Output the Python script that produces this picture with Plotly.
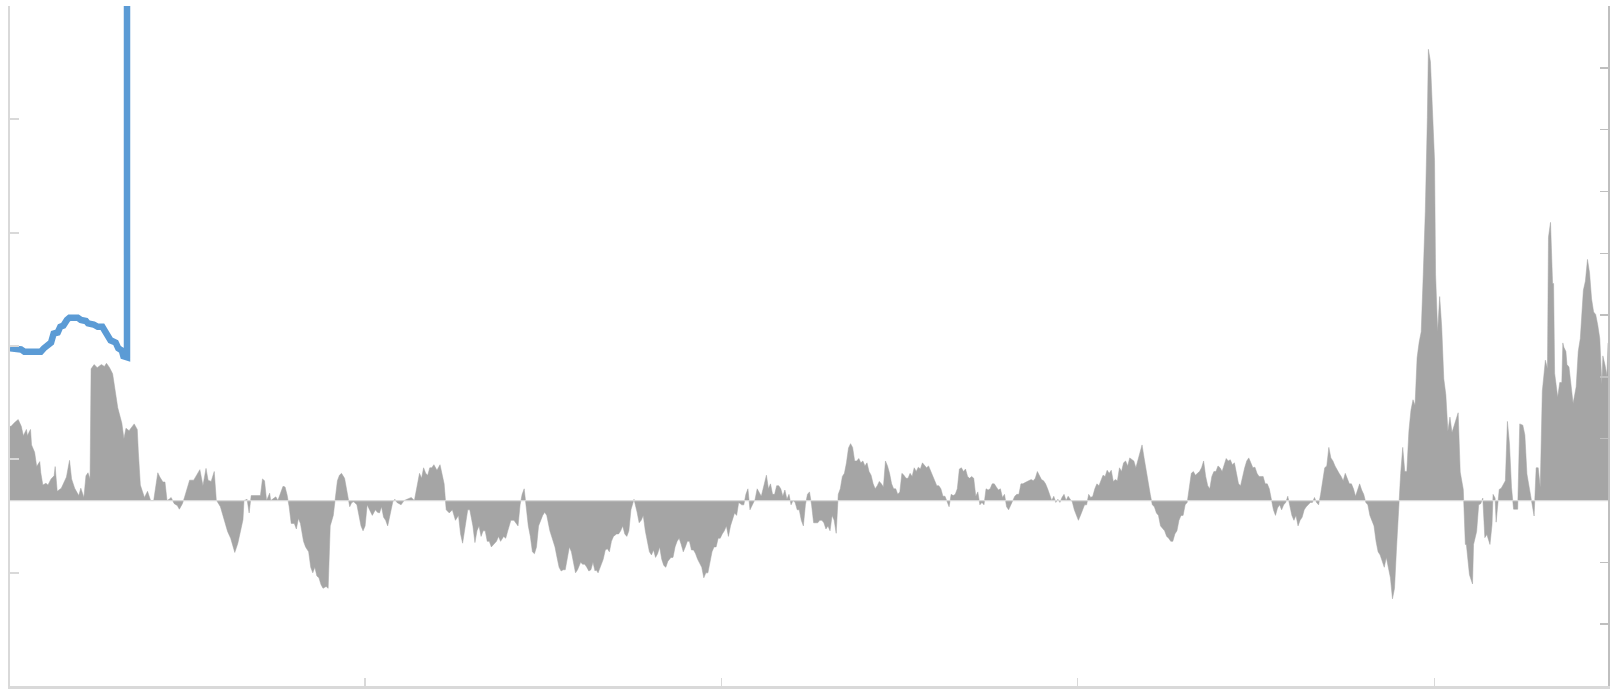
import plotly.graph_objects as go

# ---- grey area series (right axis) ----
t_area = [0, 1, 5, 8, 11, 13, 16, 17, 19, 20, 21, 24, 26, 29, 30, 32, 35, 37, 40, 43, 44, 46, 50, 53, 55, 58, 60, 63, 67, 69, 72, 74, 76, 78,
          79, 82, 85, 89, 92, 94, 97, 100, 103, 105, 109, 111, 113, 116, 121, 124, 125, 127, 129, 131, 134, 137, 140, 144, 146, 149, 151, 153,
          155, 157, 160, 163, 165, 168, 170, 173, 175, 179, 183, 185, 188, 191, 193, 196, 199, 201, 205, 209, 212, 215, 219, 222, 227, 228,
          231, 233, 235, 244, 246, 248, 250, 253, 254, 259, 261, 266, 268, 270, 272, 274, 277, 279, 281, 283,
          284, 286, 288, 291, 293, 295, 297, 299, 301, 303, 305, 308, 310, 312, 315, 317, 319, 321, 323, 326, 329, 331, 333, 335, 338, 340,
          342, 344, 346, 348, 351, 353, 356, 358, 360, 362, 364, 366, 368, 371, 373, 375, 377, 381, 384, 388, 391, 394, 397, 399, 401, 403,
          405, 407, 409, 411, 413, 416, 419, 421, 423, 425, 428, 431, 434, 437, 439, 441, 444, 446, 448, 451, 453, 455, 457, 459, 461, 463,
          465, 467, 469, 471, 474, 476, 478, 481, 483, 485, 488, 491, 493, 495, 497, 499, 501, 503, 505, 507, 509, 511, 513, 515, 517, 519,
          521, 523, 526, 528, 531, 533, 535, 537, 539, 541, 543, 545, 547, 549, 551, 553, 556, 558, 560, 562, 564, 566, 568, 570, 571, 573,
          576, 578, 580, 582, 584, 586, 588, 591, 593, 595, 597, 599, 601, 603, 605, 608, 611, 613, 615, 617, 619, 621, 623, 625, 627, 629,
          631, 633, 635, 637, 639, 641, 644, 646, 648, 650, 652, 654, 656, 658, 660, 662, 664, 666, 668, 670, 672, 674, 676, 678, 680, 682,
          684, 686, 688, 690, 692, 694, 696, 698, 700, 702, 704, 706, 708, 710, 713, 715, 717, 719, 721, 723, 726, 728, 730, 732, 735, 737,
          739, 741, 743, 745, 747, 749, 751, 753, 755, 757, 759, 761, 763, 765, 767, 769, 771, 773, 775, 777, 779, 781, 783, 785, 787, 789,
          791, 793, 795, 797, 799, 801, 803, 805, 807, 809, 811, 813, 815, 817, 819, 821, 823, 825, 827, 829, 831, 833, 835, 837, 839, 841,
          843, 845, 847, 849, 851, 853, 855, 857, 859, 861, 863, 865, 867, 869, 871, 873, 875, 877, 879, 881, 883, 885, 887, 889, 891, 893,
          895, 897, 899, 901, 903, 905, 907, 909, 911, 913, 915, 917, 919, 921, 923, 925, 927, 929, 931, 933, 935, 937, 939, 941, 943, 945,
          947, 949, 951, 953, 955, 957, 959, 961, 963, 965, 967, 969, 971, 973, 975, 977, 979, 981, 983, 985, 987, 989, 991, 993, 995, 997,
          999, 1001, 1003, 1005, 1007, 1009, 1011, 1013, 1015, 1017, 1019, 1021, 1023, 1025, 1027, 1029, 1031, 1033, 1035, 1037, 1039, 1041,
          1043, 1045, 1047, 1049, 1051, 1053, 1055, 1057, 1059, 1061, 1063, 1065, 1067, 1069, 1071, 1073, 1075, 1077, 1079, 1081, 1083, 1085,
          1087, 1089, 1091, 1095, 1097, 1099, 1101, 1103, 1105, 1107, 1109, 1111, 1113, 1115, 1117, 1119, 1121, 1123, 1125, 1127, 1129, 1131,
          1133, 1135, 1137, 1139, 1141, 1143, 1145, 1147, 1149, 1151, 1153, 1155, 1157, 1159, 1161, 1163, 1165, 1167, 1169, 1171, 1173, 1175,
          1177, 1179, 1181, 1183, 1185, 1187, 1189, 1191, 1193, 1195, 1197, 1199, 1201, 1203, 1205, 1207, 1209, 1211, 1213, 1215, 1217, 1219,
          1221, 1223, 1225, 1227, 1229, 1231, 1233, 1235, 1237, 1239, 1241, 1243, 1245, 1247, 1249, 1251, 1253, 1255, 1257, 1259, 1261, 1263,
          1265, 1267, 1269, 1271, 1273, 1275, 1277, 1279, 1281, 1283, 1285, 1287, 1289, 1291, 1293, 1295, 1297, 1299, 1301, 1303, 1305, 1307,
          1309, 1311, 1313, 1315, 1317, 1319, 1321, 1323, 1325, 1327, 1329, 1331, 1333, 1335, 1337, 1339, 1341, 1343, 1345, 1347, 1349, 1351,
          1353, 1355, 1357, 1359, 1361, 1363, 1365, 1367, 1369, 1371, 1373, 1375, 1377, 1379, 1381, 1382, 1384, 1386, 1388, 1389, 1391, 1393,
          1395, 1397, 1399, 1401,
          1403, 1405, 1411, 1413, 1416, 1418, 1419, 1422, 1425, 1426, 1429, 1431, 1433, 1435, 1437, 1439, 1442, 1444, 1445, 1447, 1448, 1451,
          1453, 1457, 1459, 1461, 1463, 1465, 1469, 1471, 1474, 1476, 1478, 1481, 1485, 1487, 1489, 1491, 1493, 1496, 1498, 1499, 1501, 1503,
          1504, 1505, 1507, 1508, 1510, 1512, 1513, 1514, 1516, 1517, 1519, 1521, 1523, 1526, 1528, 1530, 1532, 1533, 1535, 1537, 1539, 1541,
          1543, 1545, 1547, 1549, 1551, 1552, 1554, 1556, 1557]

spread = [1.2, 1.2, 1.27, 1.31, 1.2, 1.05, 1.15, 1.05, 1.12, 1.15, 0.9, 0.78, 0.55, 0.63, 0.45, 0.25, 0.28, 0.25, 0.35, 0.4, 0.55, 0.15, 0.2, 0.3, 0.38, 0.65, 0.35, 0.2, 0.08, 0.2, 0.05, 0.4, 0.45, 0.35,
          2.13, 2.2, 2.15, 2.2, 2.17, 2.22, 2.15, 2.05, 1.75, 1.5, 1.25, 1.0, 1.17, 1.13, 1.24, 1.15, 0.8, 0.25, 0.15, 0.05, 0.15, 0.0, 0.0, 0.45, 0.38, 0.3, 0.3, 0.0,
          0.02, 0.05, -0.05, -0.08, -0.14, -0.05, 0.05, 0.2, 0.33, 0.33, 0.44, 0.5, 0.24, 0.52, 0.33, 0.31, 0.47, 0.01, -0.1, -0.31, -0.5, -0.61, -0.84, -0.69, -0.31, 0.0,
          0.02, -0.2, 0.08, 0.08, 0.35, 0.32, 0.0, 0.12, 0.0, 0.06, 0.0, 0.23, 0.22, 0.09, -0.1, -0.37, -0.37, -0.46, -0.29, -0.37,
          -0.49, -0.66, -0.75, -0.83, -1.08, -1.17, -1.08, -1.22, -1.25, -1.36, -1.42, -1.39, -1.42, -0.41, -0.24, 0.02, 0.32, 0.41, 0.44, 0.36, 0.1, -0.1,
          -0.03, -0.02, -0.07, -0.24, -0.41, -0.49, -0.41, -0.07, -0.19, -0.24, -0.15, -0.19, -0.2, -0.1, -0.27, -0.32, -0.41, -0.15, -0.02, 0.02, -0.03, -0.07, 0.0, 0.03, 0.05, 0.0,
          0.27, 0.44, 0.36, 0.53, 0.44, 0.41, 0.53, 0.53, 0.58, 0.49, 0.58, 0.44, 0.27, -0.15, -0.2, -0.15, -0.32, -0.24, -0.54, -0.69, -0.32, -0.15, -0.15, -0.41, -0.68, -0.49,
          -0.41, -0.58, -0.49, -0.49, -0.66, -0.66, -0.75, -0.71, -0.66, -0.58, -0.66, -0.58, -0.61, -0.49, -0.32, -0.32, -0.36, -0.41, -0.07, 0.1, 0.19, -0.15, -0.41, -0.58, -0.83, -0.86,
          -0.75, -0.41, -0.32, -0.24, -0.19, -0.24, -0.49, -0.61, -0.75, -0.92, -1.08, -1.14, -1.12, -1.12, -0.92, -0.75, -0.83, -1.03, -1.17, -1.12, -1.0, -1.03, -1.03, -1.08, -1.14, -1.12,
          -1.0, -1.14, -1.12, -1.17, -1.03, -0.95, -0.8, -0.78, -0.83, -0.66, -0.58, -0.54, -0.54, -0.49, -0.41, -0.54, -0.58, -0.49, -0.15, 0.02, -0.19, -0.36, -0.32, -0.24, -0.49, -0.66,
          -0.83, -0.88, -0.8, -0.92, -0.86, -0.75, -0.95, -1.05, -1.08, -0.98, -0.92, -0.92, -0.75, -0.66, -0.61, -0.71, -0.83, -0.75, -0.66, -0.66, -0.8, -0.8, -0.86, -0.95, -1.03, -1.08,
          -1.25, -1.17, -1.17, -1.0, -0.83, -0.75, -0.75, -0.61, -0.61, -0.54, -0.49, -0.41, -0.58, -0.41, -0.29, -0.2, -0.24, -0.03, -0.07, -0.07, 0.1, 0.19, -0.15, -0.07, 0.02, 0.19,
          0.14, 0.07, 0.27, 0.41, 0.19, 0.27, 0.1, 0.1, 0.24, 0.24, 0.19, 0.07, 0.17, 0.02, 0.1, -0.07, 0.0, -0.03, -0.15, -0.15, -0.32, -0.41, -0.07, 0.1, 0.14, -0.07,
          -0.36, -0.36, -0.36, -0.32, -0.32, -0.36, -0.46, -0.41, -0.49, -0.24, -0.32, -0.53, 0.1, 0.19, 0.39, 0.44, 0.61, 0.85, 0.92, 0.86, 0.64, 0.64, 0.68, 0.61, 0.64, 0.56,
          0.61, 0.47, 0.41, 0.27, 0.19, 0.24, 0.31, 0.27, 0.22, 0.64, 0.56, 0.44, 0.27, 0.19, 0.19, 0.1, 0.14, 0.44, 0.41, 0.36, 0.36, 0.44, 0.39, 0.53, 0.47, 0.54,
          0.51, 0.61, 0.56, 0.53, 0.56, 0.47, 0.39, 0.32, 0.24, 0.24, 0.19, 0.07, 0.07, -0.03, -0.1, 0.1, 0.08, 0.1, 0.19, 0.51, 0.53, 0.47, 0.51, 0.39, 0.36, 0.39,
          0.36, 0.07, 0.14, -0.07, -0.03, -0.07, 0.19, 0.17, 0.19, 0.27, 0.27, 0.22, 0.17, 0.19, 0.05, 0.1, -0.1, -0.15, -0.07, 0.02, 0.07, 0.1, 0.1, 0.27, 0.27, 0.29,
          0.31, 0.32, 0.34, 0.32, 0.36, 0.47, 0.39, 0.34, 0.32, 0.27, 0.19, 0.08, 0.0, 0.07, -0.03, 0.02, -0.03, 0.05, 0.1, 0.0, 0.07, 0.02, -0.02, -0.15, -0.24, -0.32,
          -0.24, -0.15, -0.07, -0.07, 0.1, 0.05, 0.07, 0.19, 0.27, 0.24, 0.32, 0.41, 0.39, 0.49, 0.44, 0.49, 0.31, 0.34, 0.32, 0.53, 0.47, 0.61,
          0.64, 0.56, 0.69, 0.64, 0.53, 0.64, 0.78, 0.9, 0.69, 0.47, 0.27, 0.1, -0.07, -0.1, -0.2, -0.24, -0.41, -0.46, -0.49, -0.58, -0.61, -0.66,
          -0.66, -0.54, -0.49, -0.32, -0.24, -0.24, -0.07, -0.03, 0.19, 0.44, 0.47, 0.41, 0.44, 0.47, 0.53, 0.64, 0.39, 0.24, 0.19, 0.39, 0.47, 0.47,
          0.56, 0.53, 0.47, 0.58, 0.68, 0.64, 0.66, 0.58, 0.61, 0.44, 0.27, 0.24, 0.41, 0.53, 0.64, 0.69, 0.61, 0.53, 0.54, 0.44, 0.39, 0.39,
          0.39, 0.27, 0.27, 0.19, 0.02, -0.15, -0.24, -0.12, -0.07, -0.15, -0.07, -0.03, 0.07, -0.07, -0.24, -0.32, -0.24, -0.41, -0.32, -0.27, -0.15, -0.1,
          -0.07, -0.03, -0.03, 0.05, -0.03, -0.07, 0.1, 0.36, 0.53, 0.56, 0.86, 0.69, 0.64, 0.56, 0.49, 0.44, 0.39, 0.32, 0.44, 0.36, 0.27, 0.27,
          0.19, 0.07, 0.19, 0.27, 0.17, 0.1, -0.03, -0.07, -0.24, -0.32, -0.41, -0.66, -0.83, -0.88, -1.0, -1.08, -0.92, -1.08, -1.25, -1.59, -1.42, -0.75,
          -0.07, 0.44, 0.86, 0.47, 0.47, 1.12, 1.46, 1.63, 1.54, 2.31, 2.56, 2.73, 3.66, 4.68, 6.2, 7.3, 7.1, 6.2, 5.5, 3.66, 2.73, 3.3,
          2.8, 1.97, 1.71, 1.12,
          1.35, 1.1, 1.42, 0.46, 0.18, -0.71, -0.71, -1.2, -1.35, -0.71, -0.5, -0.07, -0.05, 0.04, -0.6, -0.55, -0.71, -0.39, 0.1, 0.04, -0.35, 0.18,
          0.2, 0.32, 1.28, 0.92, 0.21, -0.14, -0.14, 1.24, 1.22, 1.06, 0.43, 0.14, -0.25, 0.53, 0.53, 0.21, 1.77, 2.27, 2.13, 4.26, 4.5, 3.51,
          3.51, 2.06, 1.84, 1.67, 1.91, 1.91, 2.55, 2.48, 2.41, 2.2, 2.16, 1.84, 1.57, 1.84, 2.41, 2.62, 3.16, 3.4, 3.55, 3.9, 3.69, 3.26,
          3.05, 3.01, 2.84, 2.62, 1.88, 2.34, 2.2, 2.02, 2.55]

# ---- blue line series (left axis) ----
t_line = [0, 10.7, 14, 30, 33, 37, 40, 42.5, 46.5, 49, 52, 55.5, 58, 66, 69, 74, 76, 81.5, 85.5, 90, 93.5, 95, 98, 103, 105.5, 109, 110.5, 114, 115]
level = [2.98, 2.97, 2.95, 2.95, 2.98, 3.02, 3.03, 3.11, 3.12, 3.17, 3.18, 3.23, 3.25, 3.25, 3.23, 3.22, 3.2, 3.19, 3.17, 3.17, 3.12, 3.08, 3.05, 3.03, 2.98, 2.96, 2.91, 2.9, 600]

x_ticks = [346, 693, 1040, 1388]
x_range = [0, 1557]
left_range = [0, 6]
right_range = [-3, 8]

AX_LIGHT = "#d9d9d9"
AX_MID = "#bfbfbf"

fig = go.Figure()
fig.add_trace(go.Scatter(x=t_area, y=spread, mode="lines", fill="tozeroy",
                         fillcolor="#a5a5a5", line=dict(color="#a5a5a5", width=0.5),
                         yaxis="y", hoverinfo="skip"))
fig.add_trace(go.Scatter(x=t_line, y=level, mode="lines",
                         line=dict(color="#5b9bd5", width=6.5),
                         yaxis="y2", hoverinfo="skip"))

fig.add_shape(type="line", xref="paper", x0=0, x1=1, yref="y", y0=0, y1=0,
              line=dict(color=AX_LIGHT, width=1.2), layer="above")

fig.update_layout(
    width=1611, height=689,
    margin=dict(l=10, r=3, t=6, b=3),
    paper_bgcolor="white", plot_bgcolor="white",
    showlegend=False,
    xaxis=dict(range=x_range, tickvals=x_ticks, ticks="inside", ticklen=8, tickwidth=1.5,
               tickcolor=AX_LIGHT, showticklabels=False, showgrid=False, zeroline=False,
               showline=True, linecolor=AX_LIGHT, linewidth=2.5),
    yaxis=dict(range=right_range, dtick=1, side="right", ticks="inside", ticklen=8, tickwidth=1.5,
               tickcolor=AX_MID, showticklabels=False, showgrid=False, zeroline=False,
               showline=True, linecolor=AX_MID, linewidth=1.5),
    yaxis2=dict(range=left_range, dtick=1, side="left", overlaying="y", ticks="inside", ticklen=9,
                tickwidth=2, tickcolor=AX_LIGHT, showticklabels=False, showgrid=False, zeroline=False,
                showline=True, linecolor=AX_LIGHT, linewidth=2.5),
)

fig.write_html("out.html",
               config={"displayModeBar": False, "staticPlot": True},
               post_script="document.body.style.margin='0px';document.body.style.overflow='hidden';")
